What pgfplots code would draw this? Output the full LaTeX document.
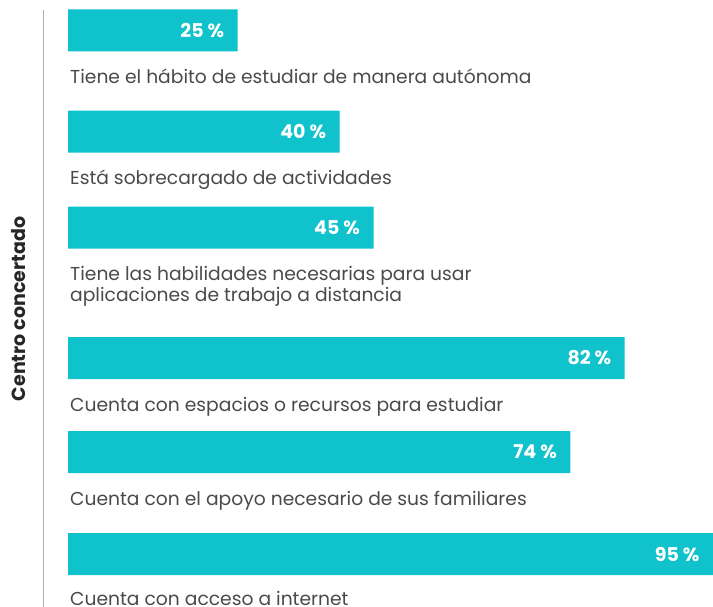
\documentclass[border=0pt]{standalone}
\usepackage{fontspec}
\setmainfont{Poppins}
\usepackage{pgfplots}
\pgfplotsset{compat=1.18}
\definecolor{barteal}{HTML}{0FC2CC}
\definecolor{labelgray}{HTML}{4A4A4A}
\definecolor{linegray}{HTML}{B0B0B0}

\begin{document}
\begin{tikzpicture}
\useasboundingbox (0,0) rectangle (713bp,607bp);
% left rule and group label
\draw[linegray, line width=1bp] (43bp,0) -- (43bp,597bp);
\node[rotate=90, font=\bfseries\fontsize{19bp}{21bp}\selectfont, text=black!85]
  at (19bp,298bp) {Centro concertado};
\begin{axis}[
    at={(68bp,607bp)}, anchor=north west,
    xbar, scale only axis,
    width=645bp, height=607bp,
    xmin=0, xmax=95, ymin=0, ymax=607,
    y dir=reverse,
    hide axis, clip=false,
    bar width=42, bar shift=0pt,
    point meta=x,
    /pgf/number format/assume math mode=true,
    nodes near coords={\pgfmathprintnumber{\pgfplotspointmeta}~\%},
    every node near coord/.append style={anchor=east, xshift=-10bp,
      text=white, font=\bfseries\fontsize{19bp}{21bp}\selectfont},
]
\addplot[fill=barteal, draw=none] coordinates {
  (25,30.5) (40,131.5) (45,227.5) (82,358) (74,452) (95,554)};
\begin{scope}[every node/.style={anchor=base west, xshift=2bp, text=labelgray,
    font=\fontsize{18.7bp}{21bp}\selectfont, inner sep=0pt}]
\node at (axis cs:0,83.5) {Tiene el hábito de estudiar de manera autónoma};
\node at (axis cs:0,184.5) {Está sobrecargado de actividades};
\node at (axis cs:0,280.5) {Tiene las habilidades necesarias para usar};
\node at (axis cs:0,301.5) {aplicaciones de trabajo a distancia};
\node at (axis cs:0,411) {Cuenta con espacios o recursos para estudiar};
\node at (axis cs:0,505) {Cuenta con el apoyo necesario de sus familiares};
\node at (axis cs:0,605) {Cuenta con acceso a internet};
\end{scope}
\end{axis}
\end{tikzpicture}
\end{document}
